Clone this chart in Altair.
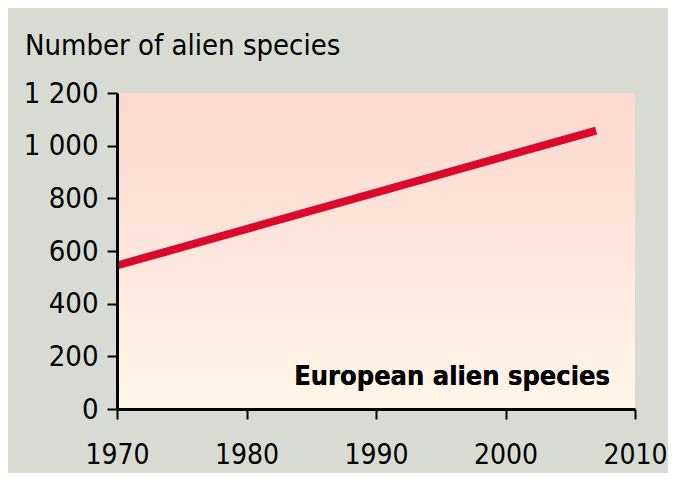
import altair as alt
import pandas as pd

years = [1970, 2007]
species = [545, 1057]
x_ticks = [1970, 1980, 1990, 2000, 2010]
y_ticks = [0, 200, 400, 600, 800, 1000, 1200]

FONT = "DejaVu Sans Condensed"

line_df = pd.DataFrame({"year": years, "species": species})

x_scale = alt.Scale(domain=[1970, 2010], nice=False, zero=False)
y_scale = alt.Scale(domain=[0, 1200], nice=False)

x_axis = alt.Axis(values=x_ticks, format="d", title=None, grid=False,
                  domainColor="black", domainWidth=3, tickColor="black",
                  tickWidth=2, tickSize=10, labelFontSize=28, labelFont=FONT,
                  labelColor="black", labelPadding=22, zindex=1,
                  labelFlush=False, labelOverlap=False)
y_axis = alt.Axis(values=y_ticks, title=None, grid=False,
                  labelExpr="replace(format(datum.value, ','), ',', ' ')",
                  domainColor="black", domainWidth=3, tickColor="black",
                  tickWidth=2, tickSize=10, labelFontSize=29, labelFont=FONT,
                  labelColor="black", labelPadding=9, zindex=1,
                  labelFlush=False, labelOverlap=False)

gradient = alt.LinearGradient(
    gradient="linear",
    stops=[alt.GradientStop(color="#fdd8cf", offset=0),
           alt.GradientStop(color="#fee6dc", offset=0.5),
           alt.GradientStop(color="#fff6e8", offset=1)],
    x1=0, x2=0, y1=0, y2=1,
)

bg = alt.Chart(line_df).mark_rect(color=gradient).encode(
    x=alt.datum(1970, scale=x_scale, axis=x_axis),
    x2=alt.datum(2010),
    y=alt.datum(0, scale=y_scale, axis=y_axis),
    y2=alt.datum(1200),
)

line = alt.Chart(line_df).mark_line(color="#da0a2c", strokeWidth=8, strokeCap="butt").encode(
    x=alt.X("year:Q", scale=x_scale, axis=x_axis),
    y=alt.Y("species:Q", scale=y_scale, axis=y_axis),
)

label = alt.Chart(line_df).mark_text(
    text="European alien species", font=FONT, fontSize=27, fontWeight="bold",
    align="right", baseline="alphabetic", color="black",
).encode(x=alt.value(493), y=alt.value(292))

chart = alt.layer(bg, line, label).properties(
    width=518, height=316,
    autosize=alt.AutoSizeParams(type="none"),
    padding={"left": 109, "top": 85, "right": 33, "bottom": 64},
    background="#d8dbd3",
    title=alt.TitleParams(
        "Number of alien species", anchor="start", frame="group",
        font=FONT, fontSize=29, fontWeight="normal", color="black",
        baseline="alphabetic", offset=-5, dx=-92,
    ),
).configure_view(stroke=None)

chart.save("out.html", embed_options={"renderer": "svg", "actions": False})
